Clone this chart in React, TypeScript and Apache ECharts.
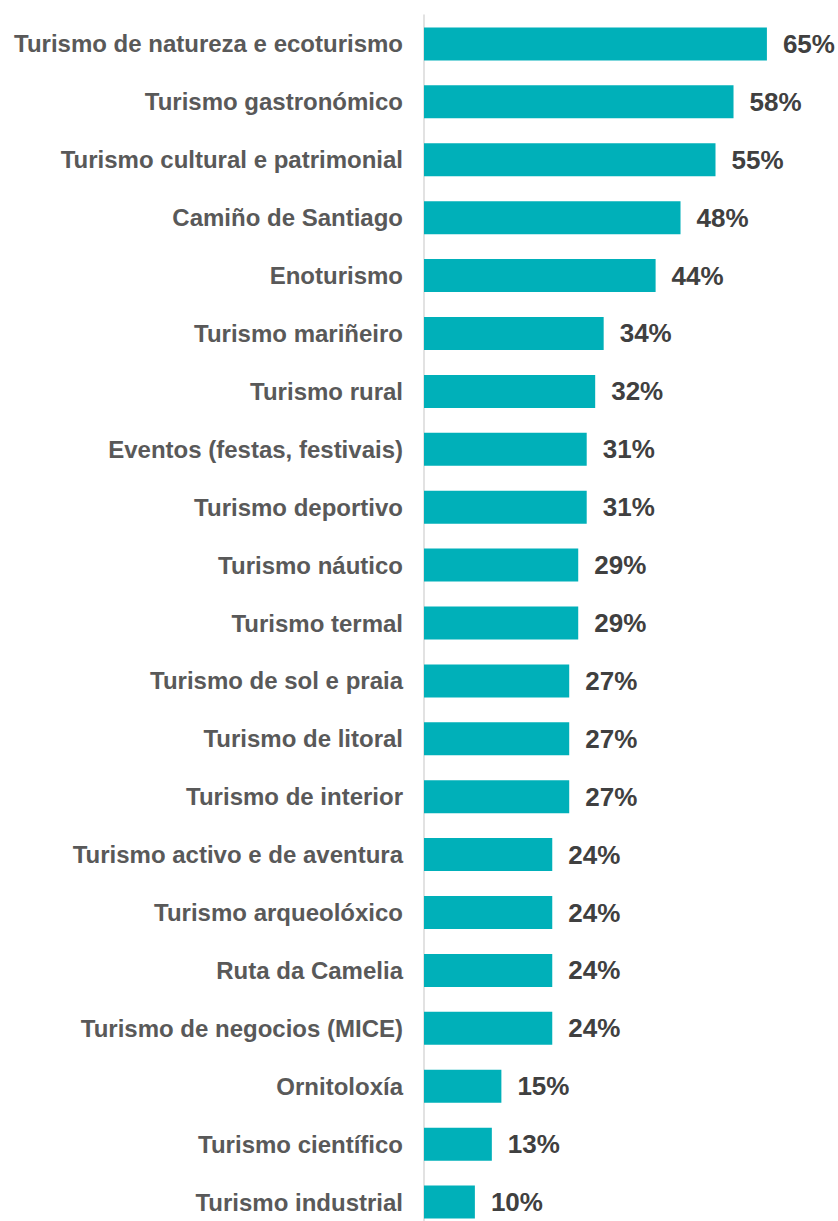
import React, { useEffect, useRef } from "react";
import * as echarts from "echarts";

const categories = [
  "Turismo de natureza e ecoturismo",
  "Turismo gastronómico",
  "Turismo cultural e patrimonial",
  "Camiño de Santiago",
  "Enoturismo",
  "Turismo mariñeiro",
  "Turismo rural",
  "Eventos (festas, festivais)",
  "Turismo deportivo",
  "Turismo náutico",
  "Turismo termal",
  "Turismo de sol e praia",
  "Turismo de litoral",
  "Turismo de interior",
  "Turismo activo e de aventura",
  "Turismo arqueolóxico",
  "Ruta da Camelia",
  "Turismo de negocios (MICE)",
  "Ornitoloxía",
  "Turismo científico",
  "Turismo industrial",
];

// Values (labels show rounded percentages)
const values = [
  64.7, 58.4, 55.0, 48.4, 43.7, 33.9, 32.3, 30.7, 30.7, 29.1, 29.1, 27.4, 27.4, 27.4, 24.2, 24.2,
  24.2, 24.2, 14.6, 12.8, 9.6,
];

const FONT = '"Liberation Sans", Arial, Helvetica, sans-serif';

export default function App() {
  const ref = useRef<HTMLDivElement>(null);
  useEffect(() => {
    if (!ref.current) return;
    const chart = echarts.init(ref.current, undefined, { renderer: "svg" });
    chart.setOption({
      animation: false,
      backgroundColor: "#ffffff",
      grid: { left: 424, top: 15, width: 371, height: 1216 },
      xAxis: {
        type: "value",
        min: 0,
        max: 70,
        show: false,
      },
      yAxis: {
        type: "category",
        data: categories,
        inverse: true,
        axisTick: { show: false },
        axisLine: { show: true, lineStyle: { color: "#d9d9d9", width: 1.5 } },
        axisLabel: {
          margin: 21,
          color: "#595959",
          fontFamily: FONT,
          fontWeight: "bold",
          fontSize: 24,
        },
      },
      series: [
        {
          type: "bar",
          data: values,
          barWidth: 33,
          itemStyle: { color: "#00B0B9" },
          label: {
            show: true,
            position: "right",
            distance: 16,
            formatter: (p: any) => Math.round(p.value) + "%",
            color: "#404040",
            fontFamily: FONT,
            fontWeight: "bold",
            fontSize: 26,
          },
        },
      ],
    });
    return () => chart.dispose();
  }, []);
  return (
    <div
      ref={ref}
      style={{ position: "absolute", left: 0, top: 0, width: 838, height: 1240 }}
    />
  );
}
